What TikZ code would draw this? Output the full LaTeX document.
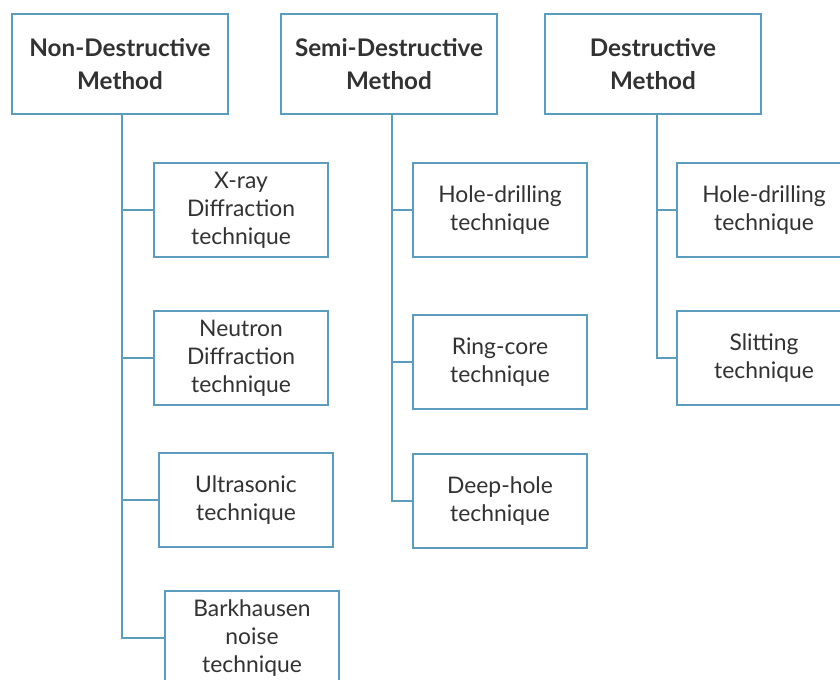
\documentclass[tikz,border=0pt]{standalone}
\usepackage{fontspec}
\setmainfont{Lato}
\usepackage{tikz}
\usetikzlibrary{positioning}

\definecolor{boxblue}{RGB}{92,156,190}
\definecolor{textgray}{RGB}{50,50,50}

\begin{document}
\begin{tikzpicture}[
    x=0.02cm, y=0.02cm,
    method/.style={draw=boxblue, line width=1.1pt, fill=white, align=center, text=textgray,
        minimum width=4.32cm, minimum height=2cm, font=\bfseries\fontsize{13.8}{18.5}\selectfont},
    technique/.style={draw=boxblue, line width=1.1pt, fill=white, align=center, text=textgray,
        minimum width=3.48cm, minimum height=1.88cm, font=\fontsize{13}{16}\selectfont},
    link/.style={draw=boxblue, line width=1.1pt}
]
\useasboundingbox (0,0) rectangle (840,-680);

% Methods
\node (nondes) [method] at (120,-64) {Non-Destructive\\Method};
\node (semides) [method] at (389,-64) {Semi-Destructive\\Method};
\node (des) [method] at (653,-64) {Destructive\\Method};

% Techniques
\node (xray) [technique] at (241,-210) {X-ray\\Diffraction\\technique};
\node (neutron) [technique] at (241,-358) {Neutron\\Diffraction\\technique};
\node (ultra) [technique] at (246,-500) {Ultrasonic\\technique};
\node (bark) [technique] at (252,-638) {Barkhausen\\noise\\technique};

\node (holesemi) [technique] at (500,-210) {Hole-drilling\\technique};
\node (ringcore) [technique] at (500,-362) {Ring-core\\technique};
\node (deephole) [technique] at (500,-501) {Deep-hole\\technique};

\node (holedes) [technique] at (764,-210) {Hole-drilling\\technique};
\node (slit) [technique] at (764,-358) {Slitting\\technique};

% Links
\draw [link] ([xshift=0.04cm]nondes.south) |- (xray.west);
\draw [link] ([xshift=0.04cm]nondes.south) |- (neutron.west);
\draw [link] ([xshift=0.04cm]nondes.south) |- (ultra.west);
\draw [link] ([xshift=0.04cm]nondes.south) |- (bark.west);

\draw [link] ([xshift=0.06cm]semides.south) |- (holesemi.west);
\draw [link] ([xshift=0.06cm]semides.south) |- (ringcore.west);
\draw [link] ([xshift=0.06cm]semides.south) |- (deephole.west);

\draw [link] ([xshift=0.08cm]des.south) |- (holedes.west);
\draw [link] ([xshift=0.08cm]des.south) |- (slit.west);

\end{tikzpicture}
\end{document}
